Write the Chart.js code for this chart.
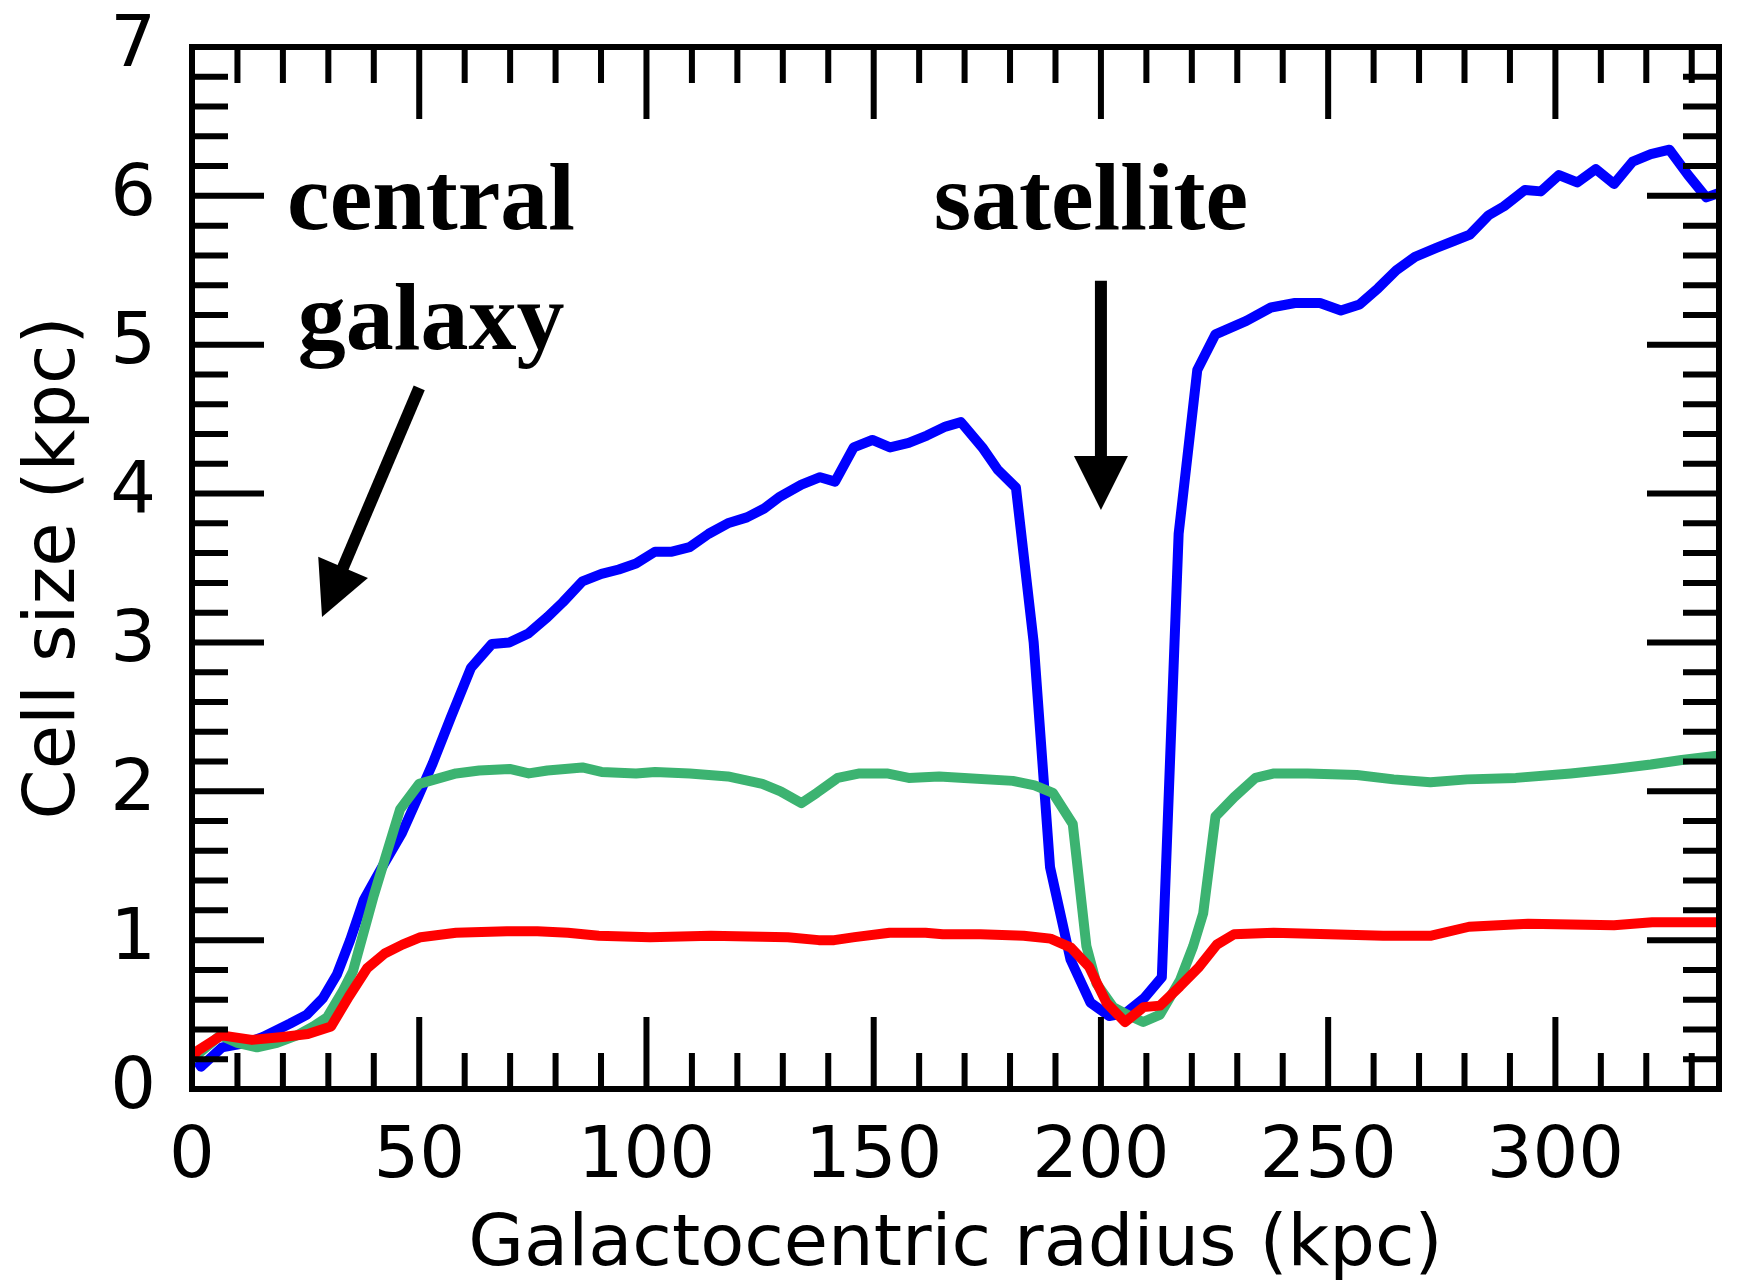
<!DOCTYPE html>
<html>
<head>
<meta charset="utf-8">
<title>Cell size vs galactocentric radius</title>
<script src="https://cdn.jsdelivr.net/npm/chart.js@4.4.1/dist/chart.umd.min.js"></script>
<style>
    html, body { margin: 0; padding: 0; background: #fff; }
    #wrap { width: 1742px; height: 1282px; }
</style>
</head>
<body>
<div id="wrap"><canvas id="cellChart" width="1742" height="1282"></canvas></div>
<script>
// радиус (kpc) и размер ячейки (kpc) для каждой кривой
const blueRadius = [0, 2, 6.6, 12, 15.6, 21.6, 25.3, 28.8, 31.9, 34.8, 37.8, 42, 46.2, 50, 53, 57, 61.4, 66, 69.8, 74,
    78.2, 81.6, 85.9, 90.1, 93.9, 97.7, 101.9, 105.6, 109.5, 113.7, 117.9, 122.1, 125.9, 129.4, 134.1, 138.2, 141.5,
    145.6, 149.7, 153.6, 157.7, 161.7, 165.8, 169.2, 173.9, 177.3, 181.3, 185.2, 188.8, 193.3, 197.7, 201.8, 205.4,
    209.5, 213.4, 217.1, 221.2, 225.2, 232, 237.4, 242.7, 248.2, 252.8, 256.9, 261, 265, 269.1, 273.8, 277.9, 281.2,
    285.3, 288.7, 293.3, 296.8, 300.8, 304.8, 308.9, 312.9, 317, 321, 325.1, 329.2, 333.2, 336];
const blueSize = [0.24, 0.15, 0.28, 0.31, 0.35, 0.44, 0.50, 0.61, 0.77, 1.0, 1.27, 1.5, 1.72, 1.98, 2.19, 2.5, 2.83, 2.99, 3.0, 3.06,
    3.17, 3.27, 3.41, 3.46, 3.49, 3.53, 3.61, 3.61, 3.64, 3.73, 3.80, 3.84, 3.90, 3.98, 4.06, 4.11, 4.08,
    4.31, 4.36, 4.31, 4.34, 4.39, 4.45, 4.48, 4.31, 4.16, 4.04, 3.0, 1.49, 0.87, 0.58, 0.49, 0.51,
    0.61, 0.75, 3.73, 4.83, 5.07, 5.16, 5.25, 5.28, 5.28, 5.23, 5.27, 5.38, 5.50, 5.59, 5.65, 5.70, 5.74,
    5.87, 5.93, 6.04, 6.03, 6.14, 6.09, 6.18, 6.08, 6.23, 6.28, 6.31, 6.14, 5.99, 6.02];

const greenRadius = [0, 6.2, 10, 14.3, 18.7, 23.1, 26.7, 29.7, 33.2, 35.4, 40, 45.8, 50, 58.1, 63.2, 69.9, 74.1, 78.2,
    85.9, 90.1, 97.7, 101.9, 109.5, 117.9, 125.5, 129.5, 134.1, 137.5, 142.1, 146.9, 152.9, 157.7, 164.4, 169.9,
    180.6, 185.4, 189.4, 193.8, 196.8, 199, 202.7, 206.4, 209.3, 213, 217.4, 220.3, 222.5, 225.2, 229.3, 234, 238.1,
    245.5, 256.3, 264.4, 272.5, 280.6, 291.3, 303.4, 312.9, 321, 327.8, 336];
const greenSize = [0.2, 0.36, 0.31, 0.28, 0.31, 0.36, 0.42, 0.48, 0.66, 0.79, 1.3, 1.88, 2.05, 2.12, 2.14, 2.15, 2.12, 2.14,
    2.16, 2.13, 2.12, 2.13, 2.12, 2.10, 2.05, 2.0, 1.92, 1.99, 2.09, 2.12, 2.12, 2.09, 2.10, 2.09,
    2.07, 2.04, 1.99, 1.78, 0.96, 0.71, 0.55, 0.49, 0.45, 0.50, 0.73, 0.96, 1.18, 1.83, 1.96, 2.09, 2.12,
    2.12, 2.11, 2.08, 2.06, 2.08, 2.09, 2.12, 2.15, 2.18, 2.21, 2.24];

const redRadius = [0, 1.4, 6.5, 13.2, 19.9, 25.5, 30.6, 34.5, 38.5, 42.4, 46.3, 50.3, 58.1, 69.3, 76, 82.7, 89.5, 100.8,
    114.2, 131.1, 137.9, 141.3, 145.8, 153.5, 161.4, 165.2, 173.5, 183, 188.9, 193.4, 197.4, 201.2, 205.3, 209.4,
    213, 217.4, 221.6, 225.5, 229.3, 238, 250.3, 262.1, 272.7, 281, 294, 312.9, 321.3, 336];
const redSize = [0.22, 0.26, 0.36, 0.33, 0.35, 0.37, 0.42, 0.62, 0.81, 0.91, 0.97, 1.02, 1.05, 1.06, 1.06, 1.05, 1.03, 1.02,
    1.03, 1.02, 1.00, 1.00, 1.02, 1.05, 1.05, 1.04, 1.04, 1.03, 1.01, 0.95, 0.82, 0.58, 0.45, 0.55,
    0.56, 0.69, 0.82, 0.97, 1.04, 1.05, 1.04, 1.03, 1.03, 1.09, 1.11, 1.10, 1.12, 1.12];

const xTicks = [0, 50, 100, 150, 200, 250, 300];
const yTicks = [0, 1, 2, 3, 4, 5, 6, 7];
const xMax = 336;
const yMax = 7;

// подписи и стрелки в координатах данных
const labels = [
    { text: 'central', x: 52.6, y: 5.78 },
    { text: 'galaxy', x: 52.6, y: 4.97 },
    { text: 'satellite', x: 197.8, y: 5.78 }
];
const arrows = [
    { from: [50.0, 4.71], to: [28.6, 3.17] },
    { from: [200, 5.43], to: [200, 3.89] }
];

const fontSans = '"DejaVu Sans", sans-serif';

function toPoints(xs, ys) {
    return xs.map((x, i) => ({ x: x, y: ys[i] }));
}

function drawArrow(ctx, x1, y1, x2, y2) {
    const headLen = 54, headHalf = 27;
    const ang = Math.atan2(y2 - y1, x2 - x1);
    const bx = x2 - headLen * Math.cos(ang);
    const by = y2 - headLen * Math.sin(ang);
    ctx.lineWidth = 12;
    ctx.lineCap = 'butt';
    ctx.beginPath();
    ctx.moveTo(x1, y1);
    ctx.lineTo(bx + 2 * Math.cos(ang), by + 2 * Math.sin(ang));
    ctx.stroke();
    ctx.beginPath();
    ctx.moveTo(x2, y2);
    ctx.lineTo(bx + headHalf * Math.sin(ang), by - headHalf * Math.cos(ang));
    ctx.lineTo(bx - headHalf * Math.sin(ang), by + headHalf * Math.cos(ang));
    ctx.closePath();
    ctx.fill();
}

const framePlugin = {
    id: 'frame',
    afterDatasetsDraw(chart) {
        const { ctx, chartArea: a, scales: { x, y } } = chart;
        ctx.save();
        ctx.strokeStyle = '#000';
        ctx.fillStyle = '#000';

        // засечки внутрь по всем четырём сторонам
        ctx.lineWidth = 6;
        ctx.lineCap = 'butt';
        ctx.beginPath();
        for (let i = 0; i * 10 <= xMax; i++) {
            const px = x.getPixelForValue(i * 10);
            const len = i % 5 === 0 ? 72 : 36;
            ctx.moveTo(px, a.bottom); ctx.lineTo(px, a.bottom - len);
            ctx.moveTo(px, a.top); ctx.lineTo(px, a.top + len);
        }
        for (let i = 0; i <= yMax * 5; i++) {
            const py = y.getPixelForValue(i / 5);
            const len = i % 5 === 0 ? 72 : 36;
            ctx.moveTo(a.left, py); ctx.lineTo(a.left + len, py);
            ctx.moveTo(a.right, py); ctx.lineTo(a.right - len, py);
        }
        ctx.stroke();

        ctx.lineWidth = 6;
        ctx.strokeRect(a.left, a.top, a.right - a.left, a.bottom - a.top);

        ctx.font = 'bold 96px "Liberation Serif", serif';
        ctx.textAlign = 'center';
        ctx.textBaseline = 'alphabetic';
        labels.forEach(l => {
            ctx.fillText(l.text, x.getPixelForValue(l.x), y.getPixelForValue(l.y));
        });

        arrows.forEach(ar => {
            drawArrow(ctx,
                x.getPixelForValue(ar.from[0]), y.getPixelForValue(ar.from[1]),
                x.getPixelForValue(ar.to[0]), y.getPixelForValue(ar.to[1]));
        });
        ctx.restore();
    }
};

const ctx = document.getElementById('cellChart').getContext('2d');
new Chart(ctx, {
    type: 'line',
    data: {
        datasets: [
            { label: 'red', data: toPoints(redRadius, redSize), borderColor: '#ff0000', order: 1 },
            { label: 'green', data: toPoints(greenRadius, greenSize), borderColor: '#3cb371', order: 2 },
            { label: 'blue', data: toPoints(blueRadius, blueSize), borderColor: '#0000ff', order: 3 }
        ]
    },
    options: {
        responsive: false,
        animation: false,
        devicePixelRatio: 1,
        layout: { padding: { top: 47, right: 23, left: 0, bottom: 0 } },
        elements: {
            point: { radius: 0 },
            line: { borderWidth: 10, tension: 0, borderJoinStyle: 'round', fill: false }
        },
        plugins: {
            legend: { display: false },
            tooltip: { enabled: false }
        },
        scales: {
            x: {
                type: 'linear',
                min: 0,
                max: xMax,
                afterFit: s => { s.height = 193; s.paddingLeft = 0; s.paddingRight = 0; },
                afterBuildTicks: s => { s.ticks = xTicks.map(v => ({ value: v })); },
                grid: { display: false, drawTicks: false },
                border: { display: false },
                ticks: {
                    padding: 26,
                    color: '#000',
                    maxRotation: 0,
                    autoSkip: false,
                    font: { family: fontSans, size: 72 }
                },
                title: {
                    display: true,
                    text: 'Galactocentric radius (kpc)',
                    color: '#000',
                    font: { family: fontSans, size: 72, lineHeight: 1 },
                    padding: { top: 0, bottom: 0 }
                }
            },
            y: {
                type: 'linear',
                min: 0,
                max: yMax,
                afterFit: s => { s.width = 192; s.paddingTop = 0; s.paddingBottom = 0; },
                afterBuildTicks: s => { s.ticks = yTicks.map(v => ({ value: v })); },
                grid: { display: false, drawTicks: false },
                border: { display: false },
                ticks: {
                    padding: 36,
                    color: '#000',
                    autoSkip: false,
                    font: { family: fontSans, size: 72 }
                },
                title: {
                    display: true,
                    text: 'Cell size (kpc)',
                    color: '#000',
                    font: { family: fontSans, size: 72, lineHeight: 1 },
                    padding: { top: 19, bottom: 0 }
                }
            }
        }
    },
    plugins: [framePlugin]
});
</script>
</body>
</html>
